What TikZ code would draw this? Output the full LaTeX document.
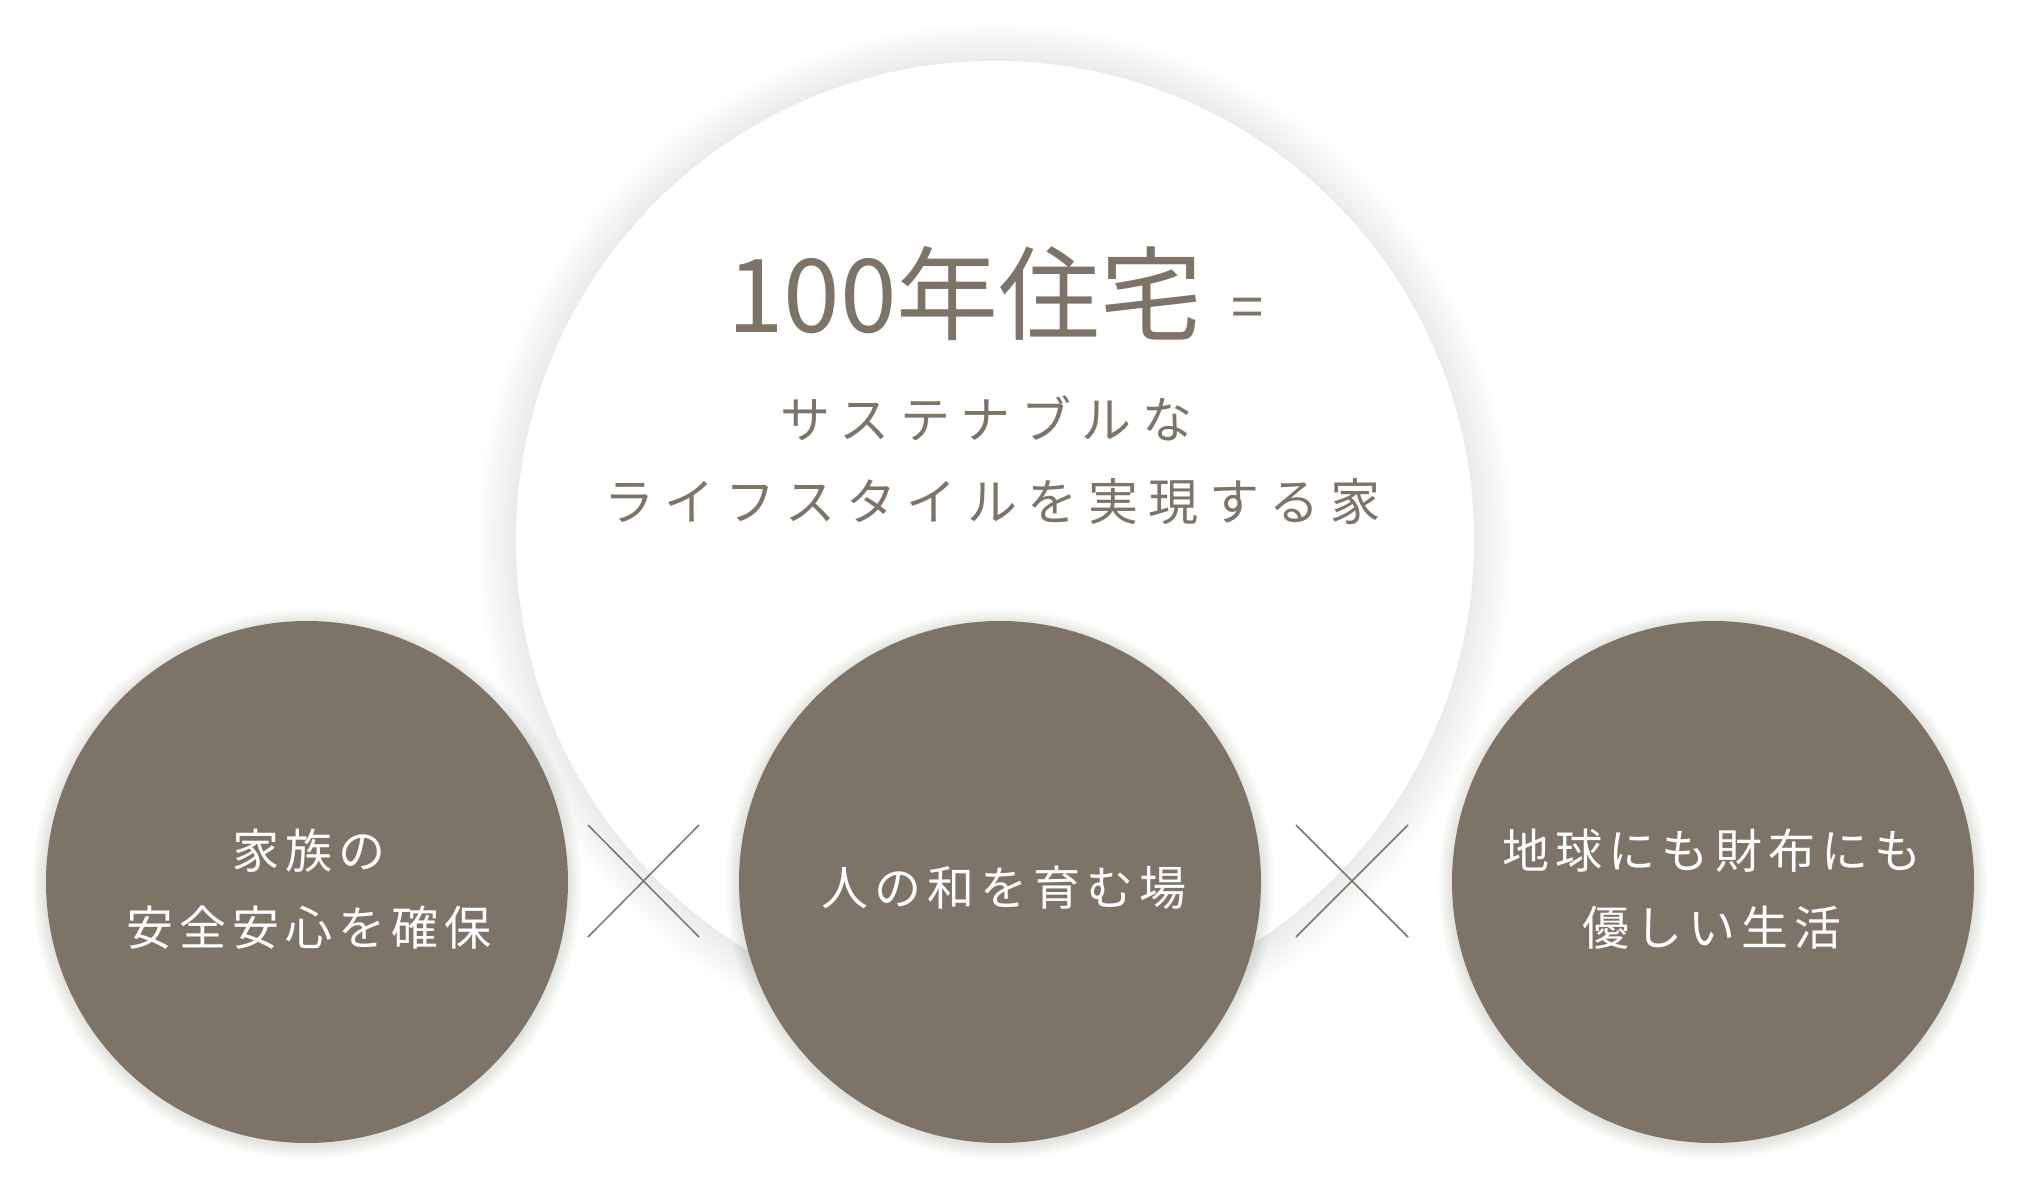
\documentclass[tikz,border=0pt]{standalone}
\usepackage{fontspec}
\newfontfamily\jptitle{Noto Sans CJK JP}
\newfontfamily\jpwide[LetterSpace=21]{Noto Sans CJK JP}
\newfontfamily\jpcirc[LetterSpace=13]{Noto Sans CJK JP}
\definecolor{brn}{HTML}{7D7467}
\definecolor{shd}{HTML}{8A8278}
\tikzset{
  bigcirc/.style={circle, fill=white, minimum size=958pt, inner sep=0pt},
  smallcirc/.style={circle, fill=brn, minimum size=522pt, inner sep=0pt},
  circtext/.style={text=white, align=center, inner sep=0pt, font=\jpcirc\fontsize{47}{77}\selectfont},
  bigtext/.style={text=brn, align=center, inner sep=0pt},
  xline/.style={draw=brn, line width=1.5pt}
}
\begin{document}
\begin{tikzpicture}[x=1pt,y=-1pt]
\fill[white] (0,0) rectangle (2019,1188);
\useasboundingbox (0,0) rectangle (2019,1188);
% shadow of the big circle
\foreach \r in {2,4,...,40}
  \fill[black,opacity=0.0038] (995,541) circle[radius=479pt+\r pt];
\node[bigcirc] (big) at (995,540) {};
% shadows of the small circles
\foreach \cx in {307,1000,1713}
  \foreach \r in {1,2,...,14}
    \fill[shd,opacity=0.016] (\cx,884) circle[radius=261pt+\r pt];
\node[smallcirc] (ca) at (307,882) {};
\node[smallcirc] (cb) at (1000,882) {};
\node[smallcirc] (cc) at (1713,882) {};
% cross marks
\coordinate (l1) at (588,825);
\coordinate (l2) at (699,937);
\coordinate (l3) at (588,937);
\coordinate (l4) at (699,825);
\coordinate (r1) at (1296,825);
\coordinate (r2) at (1408,937);
\coordinate (r3) at (1296,937);
\coordinate (r4) at (1408,825);
\draw[xline] (l1) -- (l2);
\draw[xline] (l3) -- (l4);
\draw[xline] (r1) -- (r2);
\draw[xline] (r3) -- (r4);
% texts
\node[bigtext, font=\jptitle\fontsize{102}{110}\selectfont] (title) at (965,294) {100年住宅};
\node[bigtext, font=\jptitle\fontsize{58}{60}\selectfont] (eq) at (1248,313) {=};
\node[bigtext, font=\jpwide\fontsize{50}{84}\selectfont] (sub1) at (986,418) {サステナブルな};
\node[bigtext, font=\jpwide\fontsize{50}{84}\selectfont] (sub2) at (992,502) {ライフスタイルを実現する家};
\node[circtext] (ta) at (309,889) {家族の\\安全安心を確保};
\node[circtext] (tb) at (1004,888) {人の和を育む場};
\node[circtext] (tc) at (1712,889) {地球にも財布にも\\優しい生活};
\end{tikzpicture}
\end{document}
